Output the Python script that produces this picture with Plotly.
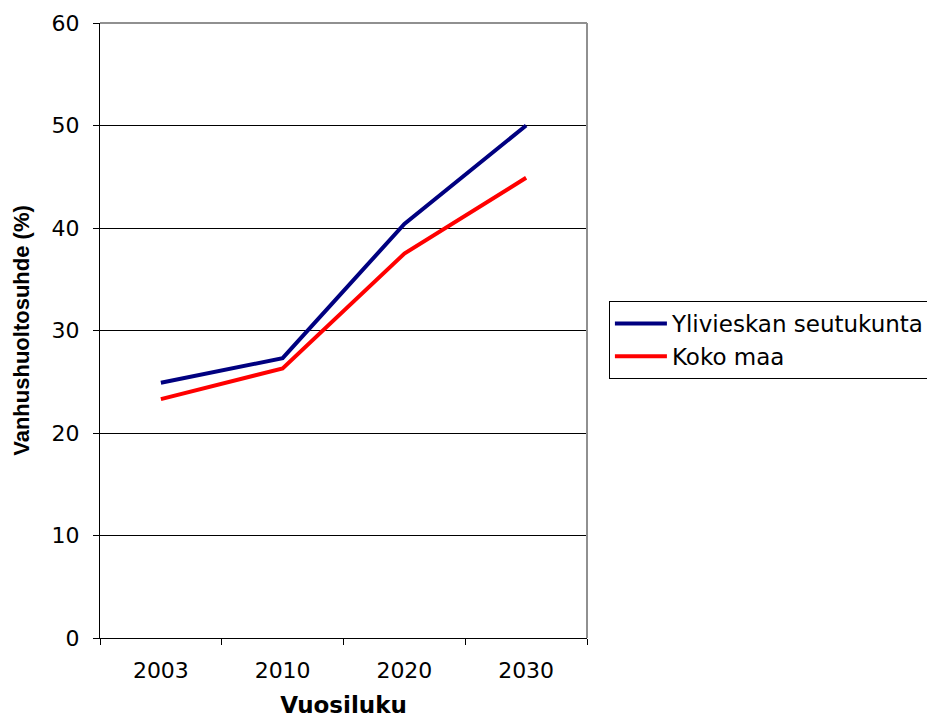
import plotly.graph_objects as go

# Old-age dependency ratio by year
years = ["2003", "2010", "2020", "2030"]
ylivieska = [24.9, 27.3, 40.4, 50.0]
koko_maa = [23.3, 26.3, 37.5, 44.9]
y_ticks = [0, 10, 20, 30, 40, 50, 60]

TXT = "DejaVu Sans"

fig = go.Figure()
fig.add_trace(go.Scatter(
    x=years, y=ylivieska, mode="lines", name="Ylivieskan seutukunta",
    line=dict(color="#000080", width=4), legendgroup="a",
))
fig.add_trace(go.Scatter(
    x=years, y=koko_maa, mode="lines", name="Koko maa",
    line=dict(color="#FF0000", width=4), legendgroup="b",
))

fig.update_layout(
    width=927, height=718,
    margin=dict(l=100, r=340, t=23, b=80, autoexpand=False),
    paper_bgcolor="white", plot_bgcolor="white",
    font=dict(family=TXT, size=22, color="black"),
    showlegend=True,
    legend=dict(
        x=1.045, xanchor="left", y=0.548, yanchor="top",
        bordercolor="black", borderwidth=1, bgcolor="white",
        font=dict(family=TXT, size=23, color="black"),
        traceorder="grouped", tracegroupgap=0, itemwidth=52,
    ),
    xaxis=dict(
        type="category", range=[-0.5, 3.5],
        showline=True, linecolor="black", linewidth=1,
        ticks="outside", tickson="boundaries", ticklen=6, tickcolor="black",
        ticklabelstandoff=13,
        showgrid=False, zeroline=False,
        tickfont=dict(family=TXT, size=22),
        title=dict(text="<b>Vuosiluku</b>", font=dict(family=TXT, size=23), standoff=26),
    ),
    yaxis=dict(
        range=[0, 60], tickvals=y_ticks,
        showline=True, linecolor="black", linewidth=1,
        ticks="outside", ticklen=6, tickcolor="black",
        ticklabelstandoff=9,
        showgrid=True, gridcolor="black", gridwidth=1, zeroline=False,
        tickfont=dict(family=TXT, size=22),
        title=dict(text="<b>Vanhushuoltosuhde (%)</b>",
                   font=dict(family="Liberation Sans", size=22), standoff=15),
    ),
    shapes=[
        dict(type="line", xref="paper", yref="paper", x0=0, x1=1, y0=1, y1=1,
             line=dict(color="#909090", width=2), layer="above"),
        dict(type="line", xref="paper", yref="paper", x0=1, x1=1, y0=0, y1=1,
             line=dict(color="#909090", width=2), layer="above"),
    ],
)

fig.write_html("out.html")
